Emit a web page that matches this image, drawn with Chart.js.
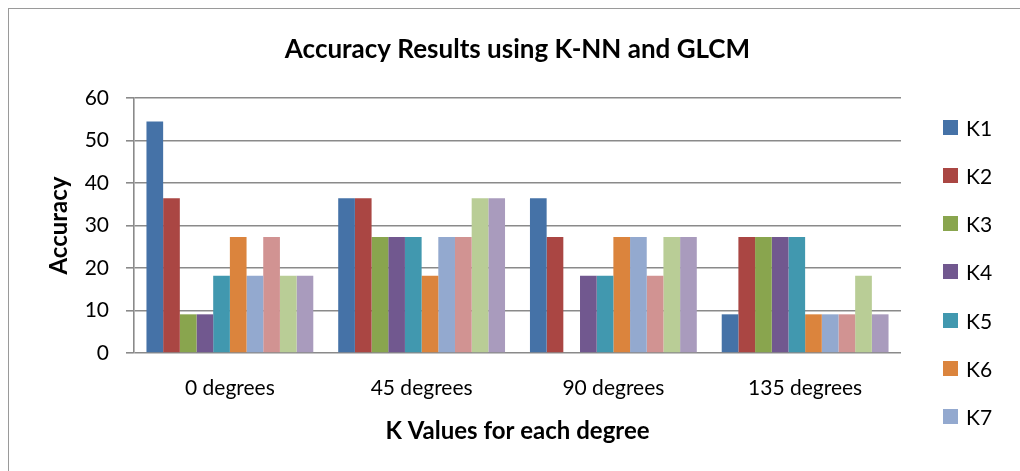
<!DOCTYPE html>
<html>
<head>
<meta charset="utf-8">
<script src="https://cdn.jsdelivr.net/npm/chart.js@4.4.1/dist/chart.umd.min.js"></script>
<style>
  html, body { margin:0; padding:0; background:#fff; overflow:hidden; }
  #wrap { position:relative; width:1020px; height:471px; overflow:hidden; }
  #frame { position:absolute; left:8px; top:8px; width:1100px; height:600px; border:1.5px solid #9a9a9a; box-sizing:border-box; }
  canvas { position:absolute; left:0; top:0; }
  #legend { position:absolute; left:943px; top:0; font-family:Lato, "Open Sans", sans-serif; font-size:21px; color:#000; }
  .li { position:absolute; left:0; display:flex; align-items:center; height:24px; white-space:nowrap; }
  .sw { width:15px; height:15px; margin-right:8px; }
</style>
</head>
<body>
<div id="wrap">
  <div id="frame"></div>
  <canvas id="c" width="1020" height="471"></canvas>
  <div id="legend"></div>
</div>
<script>
const categories = ["0 degrees", "45 degrees", "90 degrees", "135 degrees"];
const seriesNames = ["K1","K2","K3","K4","K5","K6","K7","K8","K9","K10"];
const k1  = [54.5, 36.4, 36.4, 9.1];
const k2  = [36.4, 36.4, 27.3, 27.3];
const k3  = [9.1, 27.3, 0, 27.3];
const k4  = [9.1, 27.3, 18.2, 27.3];
const k5  = [18.2, 27.3, 18.2, 27.3];
const k6  = [27.3, 18.2, 27.3, 9.1];
const k7  = [18.2, 27.3, 27.3, 9.1];
const k8  = [27.3, 27.3, 18.2, 9.1];
const k9  = [18.2, 36.4, 27.3, 18.2];
const k10 = [18.2, 36.4, 27.3, 9.1];
const yTicks = [0, 10, 20, 30, 40, 50, 60];
const legendShown = 7;

const seriesValues = [k1,k2,k3,k4,k5,k6,k7,k8,k9,k10];
const colors = ["#4572A7","#AA4643","#89A54E","#71588F","#4198AF","#DB843D","#93A9CF","#D19392","#B9CD96","#A99BBD"];
const FAMILY = 'Lato, "Open Sans", sans-serif';
const gridColor = "#8a8a8a";

const datasets = seriesValues.map((vals, i) => ({
  label: seriesNames[i],
  data: vals,
  backgroundColor: colors[i],
  borderWidth: 0,
  barPercentage: 1.0,
  categoryPercentage: 0.87
}));

new Chart(document.getElementById('c'), {
  type: 'bar',
  data: { labels: categories, datasets },
  options: {
    responsive: false,
    animation: false,
    layout: { padding: { left: 20, right: 119, top: 0, bottom: 0 } },
    plugins: {
      legend: { display: false },
      tooltip: { enabled: false },
      title: {
        display: true,
        text: "Accuracy Results using K-NN and GLCM",
        fullSize: false,
        color: "#000",
        font: { family: FAMILY, size: 26, weight: 'bold' },
        padding: { top: 34.4, bottom: 32.4 }
      }
    },
    scales: {
      x: {
        grid: { display: false, drawTicks: false },
        border: { display: false },
        ticks: { color: "#000", padding: 23, font: { family: FAMILY, size: 21 } },
        title: {
          display: true, text: "K Values for each degree", color: "#000",
          font: { family: FAMILY, size: 24, weight: 'bold' },
          padding: { top: 0, bottom: 25.6 }
        },
        afterFit(s) { s.height = 118; }
      },
      y: {
        min: 0, max: 60,
        afterBuildTicks(s) { s.ticks = yTicks.map(v => ({ value: v })); },
        ticks: { color: "#000", padding: 17, font: { family: FAMILY, size: 21 } },
        grid: { color: gridColor, lineWidth: 1.6, tickLength: 8 },
        border: { color: gridColor, width: 1.6 },
        title: {
          display: true, text: "Accuracy", color: "#000",
          font: { family: FAMILY, size: 24, weight: 'bold' },
          padding: { top: 24.6, bottom: 0 }
        },
        afterFit(s) { s.width = 114; }
      }
    }
  }
});

const lg = document.getElementById('legend');
const legendTop = 127, legendStep = 48.3;
for (let i = 0; i < legendShown; i++) {
  const d = document.createElement('div');
  d.className = 'li';
  d.style.top = (legendTop + i * legendStep - 12) + 'px';
  d.innerHTML = '<span class="sw" style="background:' + colors[i] + '"></span><span>' + seriesNames[i] + '</span>';
  lg.appendChild(d);
}
</script>
</body>
</html>
